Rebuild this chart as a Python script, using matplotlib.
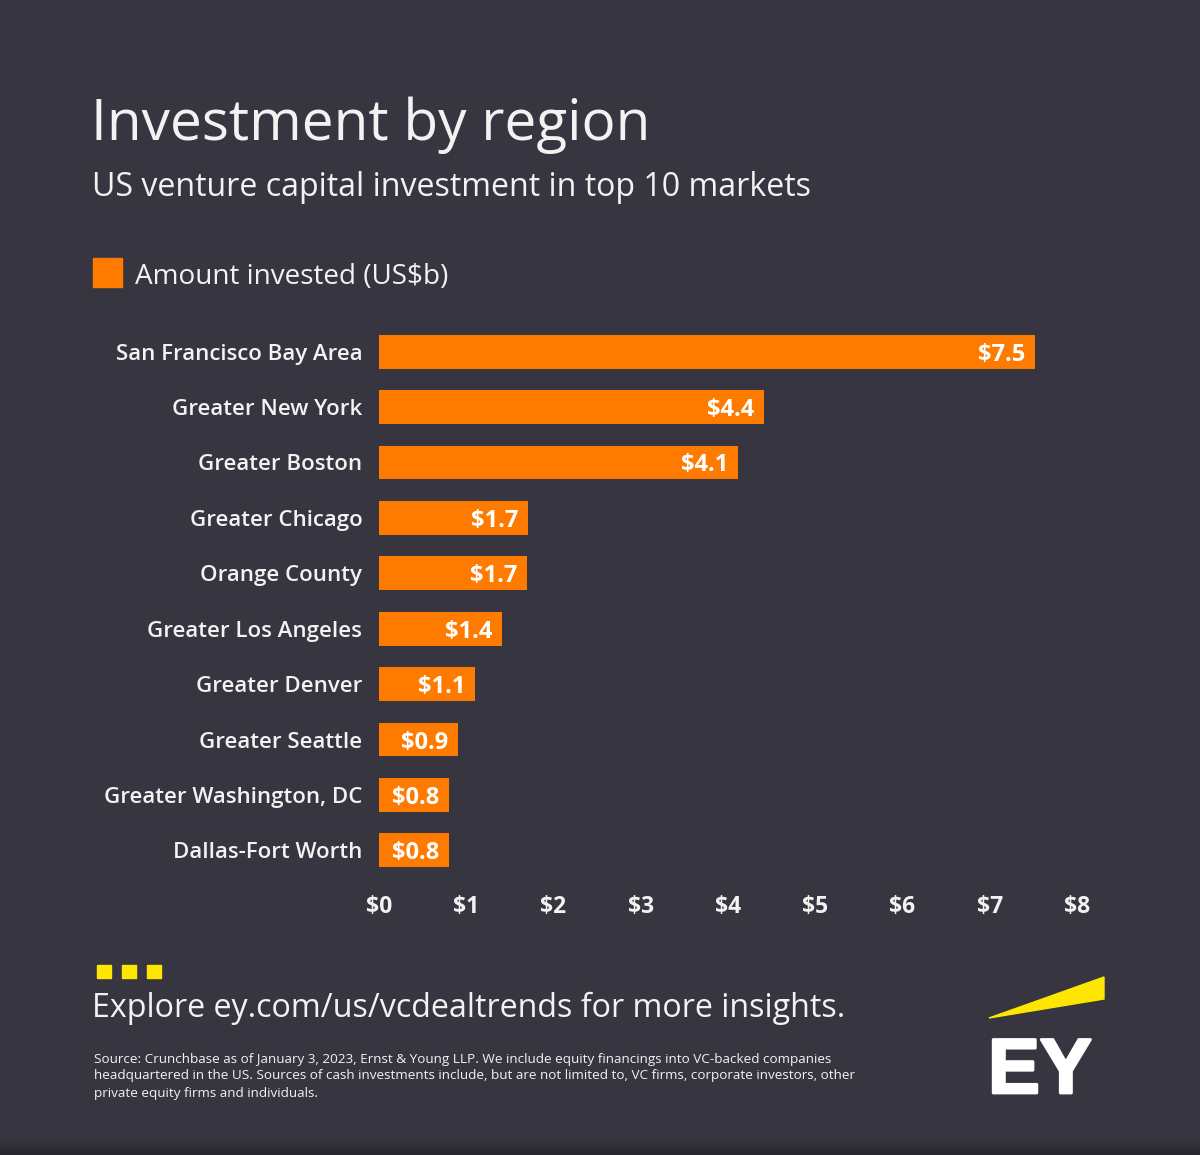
import matplotlib
matplotlib.use("Agg")
import matplotlib.pyplot as plt
import numpy as np
import matplotlib.patheffects as pe
from matplotlib.colors import LinearSegmentedColormap
from matplotlib.patches import Rectangle, Polygon

regions = ["San Francisco Bay Area","Greater New York","Greater Boston","Greater Chicago","Orange County",
           "Greater Los Angeles","Greater Denver","Greater Seattle","Greater Washington, DC","Dallas-Fort Worth"]
amounts = [7.52,4.41,4.12,1.71,1.70,1.41,1.10,0.90,0.80,0.80]
value_labels = ["$7.5","$4.4","$4.1","$1.7","$1.7","$1.4","$1.1","$0.9","$0.8","$0.8"]
ticks = [0,1,2,3,4,5,6,7,8]
tick_labels = ["$0","$1","$2","$3","$4","$5","$6","$7","$8"]

BG="#373640"; OR="#FF7B00"; YL="#FFE600"; TX="#F2F2F2"
W,H=1200,1155
fig=plt.figure(figsize=(W/100,H/100),dpi=100,facecolor=BG)
plt.rcParams['font.family']=['Open Sans','DejaVu Sans']

ax=fig.add_axes([379/W,1-878/H,(1077-379)/W,(878-324)/H],facecolor='none')
ypos=list(range(len(regions)))
ax.barh(ypos,amounts,height=0.61,color=OR)
ax.set_xlim(0,8); ax.set_ylim(9.5,-0.5)
ax.set_yticks(ypos); ax.set_yticklabels(regions,fontsize=16,color=TX,fontweight='semibold',va='center_baseline')
ax.set_xticks(ticks); ax.set_xticklabels(tick_labels,fontsize=16.5,color=TX,fontweight='bold')
ax.tick_params(axis='both',length=0); ax.tick_params(axis='y',pad=12); ax.tick_params(axis='x',pad=12)
for s in ax.spines.values(): s.set_visible(False)
for y,a,l in zip(ypos,amounts,value_labels):
    ax.text(a-0.11,y,l,ha='right',va='center_baseline',color='white',fontsize=17,fontweight='bold')

ov=fig.add_axes([0,0,1,1],facecolor='none'); ov.set_xlim(0,W); ov.set_ylim(H,0); ov.axis('off')
cm=LinearSegmentedColormap.from_list('b',[BG,"#26262C"])
ov.imshow(np.linspace(0,1,16)[:,None],extent=(0,W,1155,1139),aspect='auto',cmap=cm,zorder=0)
ov.set_xlim(0,W); ov.set_ylim(H,0)
ov.text(91,125,"Investment by region",fontsize=40.9,color=TX,va='center',ha='left')
ov.text(92,187,"US venture capital investment in top 10 markets",fontsize=23.1,color=TX,va='center',ha='left')
ov.add_patch(Rectangle((93,258),29,29,color=OR))
ov.text(135,277,"Amount invested (US$b)",fontsize=20.1,color=TX,va='center',ha='left')
for x in (97,122,147):
    ov.add_patch(Rectangle((x,965),14,13,color=YL))
ov.text(92,1008,"Explore ey.com/us/vcdealtrends for more insights.",fontsize=23.2,color=TX,va='center',ha='left')
src=["Source: Crunchbase as of January 3, 2023, Ernst & Young LLP. We include equity financings into VC-backed companies",
"headquartered in the US. Sources of cash investments include, but are not limited to, VC firms, corporate investors, other",
"private equity firms and individuals."]
for i,s in enumerate(src):
    ov.text(94,1059+i*17,s,fontsize=9.7,color=TX,va='center',ha='left')
ov.add_patch(Polygon([(989,1018),(1104,977),(1104,999)],color=YL))
t=ov.text(988,1093,"EY",fontsize=56,color='white',fontweight='bold',va='baseline',ha='left',family=['Liberation Sans','DejaVu Sans'])
t.set_path_effects([pe.withStroke(linewidth=2.0,foreground='white')])
fig.savefig("out.png",dpi=100,facecolor=BG)
